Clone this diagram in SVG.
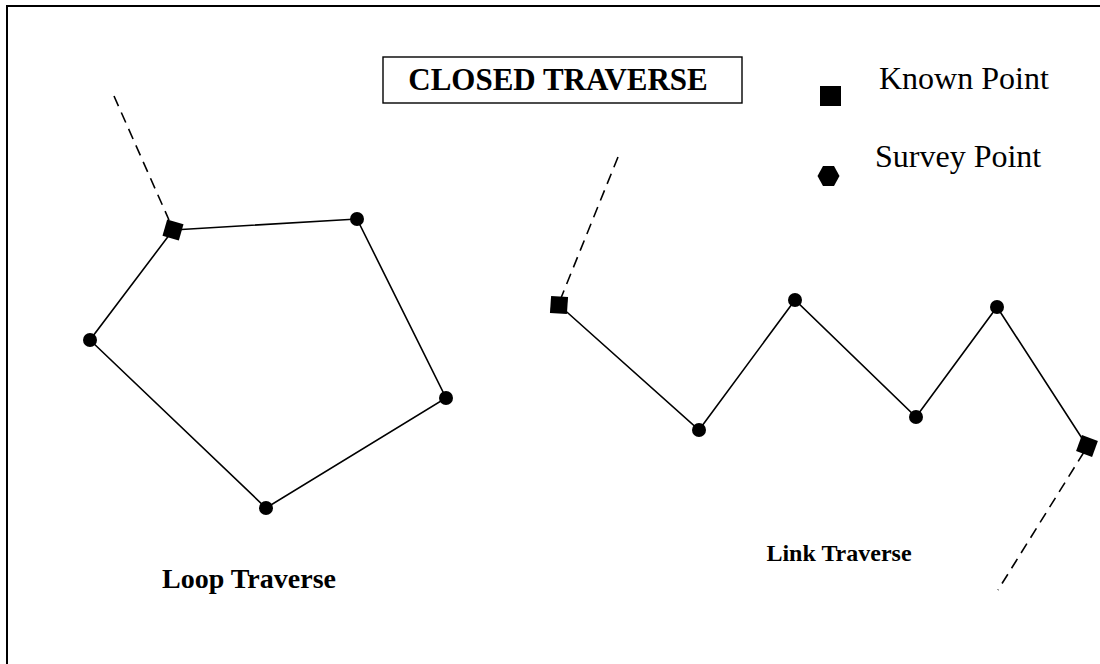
<svg xmlns="http://www.w3.org/2000/svg" width="1100" height="664" viewBox="0 0 1100 664">
  <style>
    .edge { stroke: #000; stroke-width: 1.6; fill: none; }
    .dash { stroke: #000; stroke-width: 1.6; fill: none; stroke-dasharray: 11 7; }
    .title { font-family: "Liberation Serif", serif; font-weight: bold; font-size: 31px; fill: #000; }
    .label { font-family: "Liberation Serif", serif; font-weight: bold; fill: #000; }
    .legend { font-family: "Liberation Serif", serif; font-size: 32px; fill: #000; }
  </style>
  <defs>
    <circle id="sp" r="7" fill="#000"/>
    <rect id="kp" x="-8.5" y="-8.5" width="17" height="17" fill="#000"/>
  </defs>
  <rect width="1100" height="664" fill="#fff"/>
  <!-- frame -->
  <path d="M7 670 V6 H1106" stroke="#000" stroke-width="2" fill="none"/>

  <!-- title box -->
  <g id="title">
    <rect x="383" y="57" width="359" height="46" fill="none" stroke="#000" stroke-width="1.4"/>
    <text class="title" x="558" y="90" text-anchor="middle">CLOSED TRAVERSE</text>
  </g>

  <!-- legend -->
  <g id="legend">
    <rect x="820" y="86" width="21" height="20" fill="#000"/>
    <text class="legend" x="879" y="89">Known Point</text>
    <polygon points="817.5,176 823,166 834,166 839.5,176 834,186 823,186" fill="#000"/>
    <text class="legend" x="875" y="167">Survey Point</text>
  </g>

  <g id="connectors">
    <!-- loop traverse -->
    <path class="edge" d="M173 230 L357 219 L446 398 L266 508 L90 340 Z"/>
    <path class="dash" d="M114 96 L169 220"/>
    <!-- link traverse -->
    <path class="edge" d="M559 305 L699 430 L795 300 L916 417 L997 307 L1087 446"/>
    <path class="dash" d="M618 157 L561 298"/>
    <path class="dash" d="M1084 452 L998 590"/>
  </g>

  <!-- loop traverse stations -->
  <g id="loop-k1"><use href="#kp" transform="translate(173 230) rotate(16)"/></g>
  <g id="loop-s1"><use href="#sp" x="357" y="219"/></g>
  <g id="loop-s2"><use href="#sp" x="446" y="398"/></g>
  <g id="loop-s3"><use href="#sp" x="266" y="508"/></g>
  <g id="loop-s4"><use href="#sp" x="90" y="340"/></g>

  <!-- link traverse stations -->
  <g id="link-k1"><use href="#kp" transform="translate(559 305) rotate(4)"/></g>
  <g id="link-s1"><use href="#sp" x="699" y="430"/></g>
  <g id="link-s2"><use href="#sp" x="795" y="300"/></g>
  <g id="link-s3"><use href="#sp" x="916" y="417"/></g>
  <g id="link-s4"><use href="#sp" x="997" y="307"/></g>
  <g id="link-k2"><use href="#kp" transform="translate(1087 446) rotate(20)"/></g>

  <!-- captions -->
  <text class="label" x="249" y="588" font-size="28" text-anchor="middle">Loop Traverse</text>
  <text class="label" x="839" y="561" font-size="24" text-anchor="middle">Link Traverse</text>
</svg>
